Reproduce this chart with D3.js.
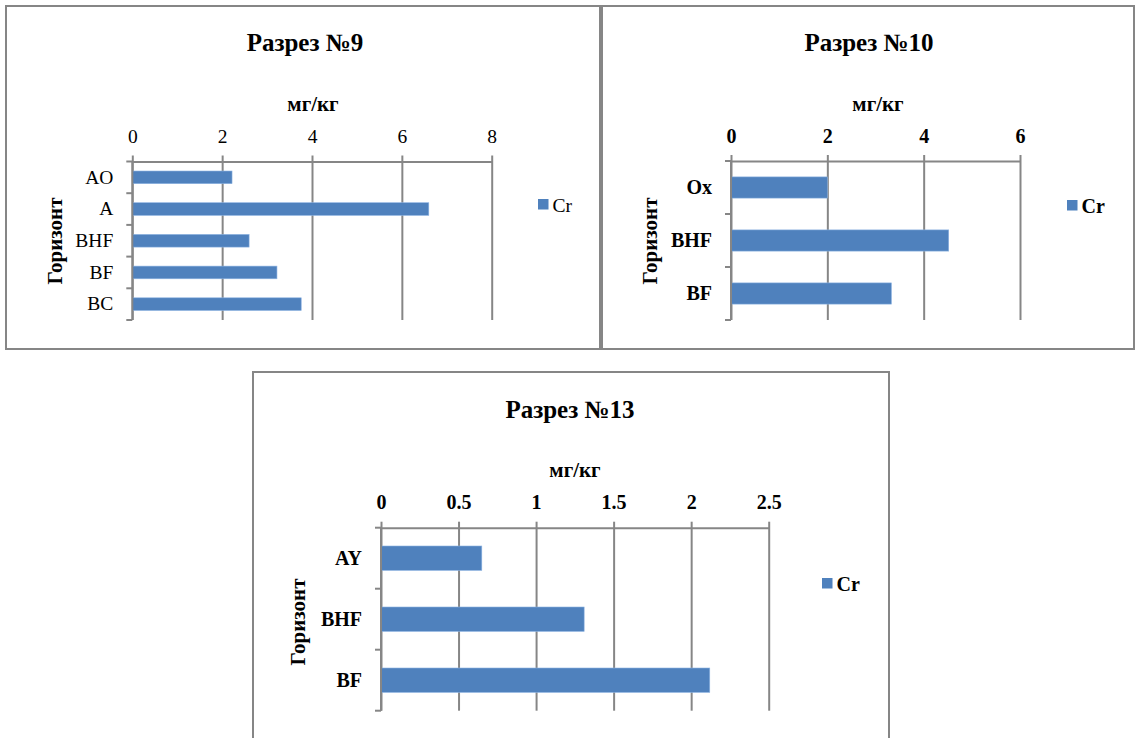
<!DOCTYPE html>
<html lang="ru">
<head>
    <meta charset="UTF-8">
    <script src="https://cdn.jsdelivr.net/npm/d3@7/dist/d3.min.js"></script>
</head>
<body style="margin:0;background:#fff">
    <script type="text/javascript">
        // data
        var titles = ["Разрез №9", "Разрез №10", "Разрез №13"];
        var unitLabel = "мг/кг";
        var axisLabel = "Горизонт";
        var seriesName = "Cr";

        var horizons9 = ["AO", "A", "BHF", "BF", "BC"];
        var cr9 = [2.22, 6.6, 2.6, 3.22, 3.76];
        var ticks9 = [0, 2, 4, 6, 8];

        var horizons10 = ["Ox", "BHF", "BF"];
        var cr10 = [2.0, 4.52, 3.33];
        var ticks10 = [0, 2, 4, 6];

        var horizons13 = ["AY", "BHF", "BF"];
        var cr13 = [0.65, 1.31, 2.12];
        var ticks13 = [0, 0.5, 1, 1.5, 2, 2.5];

        var barColor = "#4f81bd";
        var lineColor = "#868686";
        var serif = "'Liberation Serif'";

        var panels = [
            {title: titles[0], cats: horizons9, vals: cr9, ticks: ticks9, bold: false,
             box: [6, 6, 594, 343], plot: [132.3, 161.5, 491.7, 320],
             titlePos: [305, 51], unitPos: [313, 111], yTitlePos: [55, 241], legend: [538, 199]},
            {title: titles[1], cats: horizons10, vals: cr10, ticks: ticks10, bold: true,
             box: [602, 6, 532, 343], plot: [731, 161, 1020, 320],
             titlePos: [869, 51], unitPos: [878, 111], yTitlePos: [650, 241], legend: [1067, 200]},
            {title: titles[2], cats: horizons13, vals: cr13, ticks: ticks13, bold: true,
             box: [253, 372, 636, 400], plot: [381, 527.7, 768.7, 710.7],
             titlePos: [570, 418], unitPos: [575, 477], yTitlePos: [298, 622], legend: [822, 578]}
        ];

        function font(sel, size, weight) {
            sel.style("font-family", serif)
               .style("font-size", size)
               .style("font-weight", weight)
               .style("fill", "#000");
        }

        var svg = d3.select("body")
                .append("svg")
                .attr("width", 1136)
                .attr("height", 738)
                .style("display", "block");

        svg.append("rect")
                .attr("width", 1136)
                .attr("height", 738)
                .attr("fill", "#fff");

        panels.forEach(function (p) {
            var weight = p.bold ? "bold" : "normal";
            var labelSize = p.bold ? "20px" : "19.5px";
            var g = svg.append("g");

            g.append("rect")
                    .attr("x", p.box[0]).attr("y", p.box[1])
                    .attr("width", p.box[2]).attr("height", p.box[3])
                    .attr("fill", "none")
                    .attr("stroke", lineColor)
                    .attr("stroke-width", 2);

            var left = p.plot[0], top = p.plot[1], right = p.plot[2], bottom = p.plot[3];
            var h = bottom - top;

            var x = d3.scaleLinear()
                    .domain([p.ticks[0], p.ticks[p.ticks.length - 1]])
                    .range([left, right]);

            var y = d3.scaleBand()
                    .domain(p.cats)
                    .range([top, bottom])
                    .paddingInner(0.6)
                    .paddingOuter(0.3);

            // top value axis with gridlines running down
            var xAxis = g.append("g")
                    .attr("transform", "translate(0," + top + ")")
                    .call(d3.axisTop(x)
                            .tickValues(p.ticks)
                            .tickSizeInner(-h)
                            .tickSizeOuter(0)
                            .tickFormat(d3.format("")));
            xAxis.select(".domain").attr("stroke", lineColor).attr("stroke-width", 2);
            xAxis.selectAll(".tick line").attr("y1", -6).attr("stroke", lineColor).attr("stroke-width", 2);
            xAxis.selectAll(".tick text")
                    .attr("dy", 0)
                    .attr("y", -18.5)
                    .call(font, labelSize, weight);

            // bars
            g.append("g")
                    .selectAll("rect")
                    .data(p.vals)
                    .enter()
                    .append("rect")
                    .attr("x", x(0))
                    .attr("y", function (d, i) { return y(p.cats[i]); })
                    .attr("width", function (d) { return x(d) - x(0); })
                    .attr("height", y.bandwidth())
                    .attr("fill", barColor)
                    .attr("stroke", "#8db3e2")
                    .attr("stroke-width", 0.6);

            // category axis on the left
            var yAxis = g.append("g")
                    .attr("transform", "translate(" + left + ",0)")
                    .call(d3.axisLeft(y).tickSize(0).tickPadding(19));
            yAxis.select(".domain").remove();
            yAxis.selectAll(".tick text").call(font, labelSize, weight);

            g.append("line")
                    .attr("x1", left).attr("x2", left)
                    .attr("y1", top).attr("y2", bottom)
                    .attr("stroke", lineColor).attr("stroke-width", 2);

            var bounds = d3.range(p.cats.length + 1).map(function (i) {
                return y.range()[0] + i * y.step();
            });
            g.append("g")
                    .selectAll("line")
                    .data(bounds)
                    .enter()
                    .append("line")
                    .attr("x1", left - 6).attr("x2", left)
                    .attr("y1", function (d) { return d; })
                    .attr("y2", function (d) { return d; })
                    .attr("stroke", lineColor).attr("stroke-width", 2);

            // titles
            g.append("text")
                    .attr("x", p.titlePos[0]).attr("y", p.titlePos[1])
                    .attr("text-anchor", "middle")
                    .call(font, "25px", "bold")
                    .text(p.title);

            g.append("text")
                    .attr("x", p.unitPos[0]).attr("y", p.unitPos[1])
                    .attr("text-anchor", "middle")
                    .call(font, "21px", "bold")
                    .text(unitLabel);

            g.append("text")
                    .attr("transform", "translate(" + p.yTitlePos[0] + "," + p.yTitlePos[1] + ") rotate(-90)")
                    .attr("text-anchor", "middle")
                    .attr("dy", "0.35em")
                    .call(font, "21px", "bold")
                    .text(axisLabel);

            // legend
            g.append("rect")
                    .attr("x", p.legend[0]).attr("y", p.legend[1])
                    .attr("width", 10.5).attr("height", 10.5)
                    .attr("fill", barColor);
            g.append("text")
                    .attr("x", p.legend[0] + 14.5).attr("y", p.legend[1] + 12.5)
                    .call(font, labelSize, weight)
                    .text(seriesName);
        });
    </script>
</body>
</html>
